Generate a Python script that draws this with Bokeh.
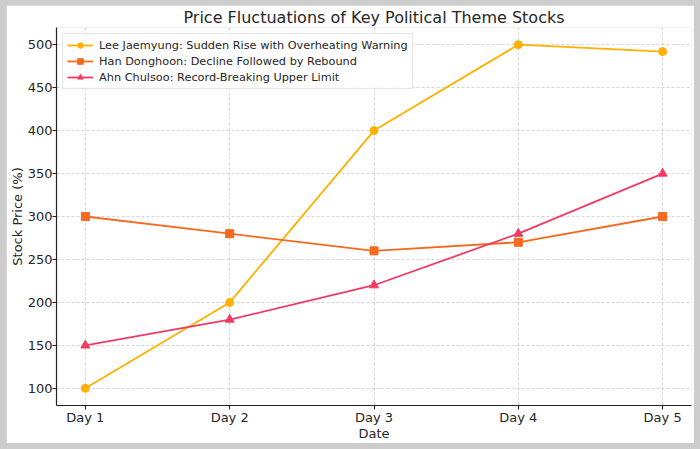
from bokeh.plotting import figure
from bokeh.layouts import column
from bokeh.models import Range1d, FixedTicker, Legend, LegendItem
from bokeh.embed import file_html
from bokeh.resources import INLINE

days = ["Day 1", "Day 2", "Day 3", "Day 4", "Day 5"]
lee = [100, 200, 400, 500, 492]
han = [300, 280, 260, 270, 300]
ahn = [150, 180, 220, 280, 350]
y_ticks = [100, 150, 200, 250, 300, 350, 400, 450, 500]

series_names = [
    "Lee Jaemyung: Sudden Rise with Overheating Warning",
    "Han Donghoon: Decline Followed by Rebound",
    "Ahn Chulsoo: Record-Breaking Upper Limit",
]
colors = ["#FFB000", "#F56A1E", "#F23A62"]

x = list(range(len(days)))
FONT = "DejaVu Sans"

p = figure(width=688, height=438, output_backend="svg", toolbar_location=None,
           x_range=Range1d(-0.2, 4.2), y_range=Range1d(80, 520),
           min_border_left=0, min_border_right=3, min_border_top=0, min_border_bottom=0)

p.title.text = "Price Fluctuations of Key Political Theme Stocks"
p.title.align = "center"
p.title.text_font = FONT
p.title.text_font_size = "16px"
p.title.text_font_style = "normal"
p.title.text_color = "#262626"
p.title.standoff = 1

p.outline_line_color = None
p.background_fill_color = "white"
p.border_fill_color = "white"

for ax in (p.xaxis[0], p.yaxis[0]):
    ax.axis_line_color = "#222222"
    ax.axis_line_width = 1.2
    ax.major_tick_line_color = "#222222"
    ax.major_tick_out = 4
    ax.major_tick_in = 0
    ax.minor_tick_line_color = None
    ax.major_label_text_font = FONT
    ax.major_label_text_font_size = "13px"
    ax.major_label_text_color = "#262626"
    ax.major_label_text_line_height = 1.0
    ax.axis_label_text_font = FONT
    ax.axis_label_text_font_size = "13px"
    ax.axis_label_text_font_style = "normal"
    ax.axis_label_text_color = "#262626"
    ax.axis_label_text_line_height = 1.0

p.xaxis.ticker = FixedTicker(ticks=x)
p.xaxis.major_label_overrides = {i: d for i, d in enumerate(days)}
p.xaxis.axis_label = "Date"
p.xaxis.axis_label_standoff = -2
p.xaxis.major_label_standoff = 0
p.yaxis.ticker = FixedTicker(ticks=y_ticks)
p.yaxis.axis_label = "Stock Price (%)"
p.yaxis.axis_label_standoff = 0
p.yaxis.major_label_standoff = 0

p.grid.grid_line_color = "#cccccc"
p.grid.grid_line_dash = "3 2"
p.grid.grid_line_width = 0.8

items = []
r1 = p.line(x, lee, color=colors[0], line_width=1.8)
m1 = p.scatter(x, lee, marker="circle", size=8, color=colors[0])
items.append(LegendItem(label=series_names[0], renderers=[r1, m1]))
r2 = p.line(x, han, color=colors[1], line_width=1.8)
m2 = p.scatter(x, han, marker="square", size=8, color=colors[1])
items.append(LegendItem(label=series_names[1], renderers=[r2, m2]))
r3 = p.line(x, ahn, color=colors[2], line_width=1.8)
m3 = p.scatter(x, ahn, marker="triangle", size=9, color=colors[2])
items.append(LegendItem(label=series_names[2], renderers=[r3, m3]))

legend = Legend(items=items, location="top_left")
legend.margin = 6
legend.padding = 4
legend.spacing = 2
legend.label_text_font = FONT
legend.label_text_font_size = "11.3px"
legend.label_text_color = "#262626"
legend.label_height = 14
legend.label_standoff = 6
legend.glyph_width = 26
legend.glyph_height = 14
legend.border_line_color = "#d0d0d0"
legend.border_line_width = 1
legend.background_fill_alpha = 0.85
p.add_layout(legend)

page = column(p, styles={"background-color": "#cccccc",
                         "padding": "5px 6px 6px 6px"})

open("out.html", "w").write(file_html(page, INLINE))
